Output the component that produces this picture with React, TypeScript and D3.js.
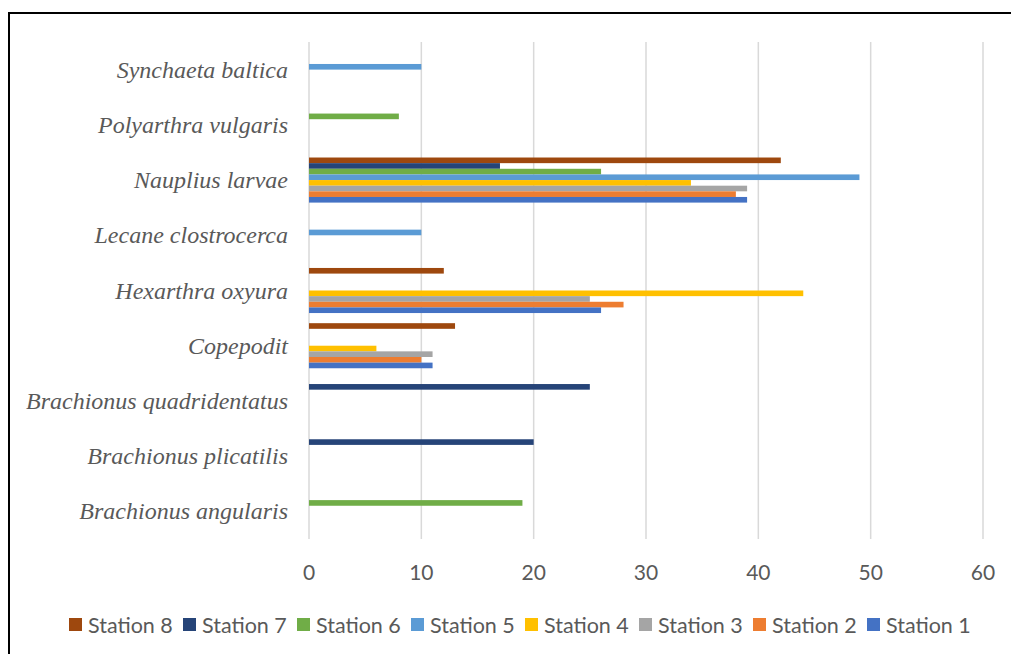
import React from "react";
import * as d3 from "d3";

// Species, listed top to bottom
const species = [
  "Synchaeta baltica",
  "Polyarthra vulgaris",
  "Nauplius larvae",
  "Lecane clostrocerca",
  "Hexarthra oxyura",
  "Copepodit",
  "Brachionus quadridentatus",
  "Brachionus plicatilis",
  "Brachionus angularis",
];

// Stations, drawn top to bottom inside each species group
const stations = [
  "Station 8",
  "Station 7",
  "Station 6",
  "Station 5",
  "Station 4",
  "Station 3",
  "Station 2",
  "Station 1",
];

const stationColors = [
  "#9E480E",
  "#264478",
  "#70AD47",
  "#5B9BD5",
  "#FFC000",
  "#A5A5A5",
  "#ED7D31",
  "#4472C4",
];

// Counts per station, in species order (null = not found)
const station8 = [null, null, 42, null, 12, 13, null, null, null];
const station7 = [null, null, 17, null, null, null, 25, 20, null];
const station6 = [null, 8, 26, null, null, null, null, null, 19];
const station5 = [10, null, 49, 10, null, null, null, null, null];
const station4 = [null, null, 34, null, 44, 6, null, null, null];
const station3 = [null, null, 39, null, 25, 11, null, null, null];
const station2 = [null, null, 38, null, 28, 10, null, null, null];
const station1 = [null, null, 39, null, 26, 11, null, null, null];

const seriesValues = [
  station8,
  station7,
  station6,
  station5,
  station4,
  station3,
  station2,
  station1,
];

const xTicks = [0, 10, 20, 30, 40, 50, 60];

export default function App() {
  const width = 1011;
  const height = 654;
  const left = 309;
  const right = 983;
  const top = 42;
  const bottom = 539;

  const x = d3.scaleLinear().domain([0, 60]).range([left, right]);
  const y = d3.scaleBand<string>().domain(species).range([top, bottom]);
  const bw = y.bandwidth();
  const barH = bw / 9.8;
  const groupH = barH * 8;
  const inner = d3
    .scaleBand<string>()
    .domain(stations)
    .range([(bw - groupH) / 2, (bw + groupH) / 2]);

  const textColor = "#595959";

  const legendX0 = 69;
  const legendStep = 114;

  return (
    <svg
      width={width}
      height={height}
      style={{ position: "absolute", left: 0, top: 0 }}
    >
      <rect x={0} y={0} width={width} height={height} fill="#fff" />
      {/* frame */}
      <rect
        x={9}
        y={13}
        width={width + 10}
        height={height + 10}
        fill="none"
        stroke="#000"
        strokeWidth={2}
      />
      {/* vertical gridlines */}
      {xTicks.map((t) => (
        <line
          key={"g" + t}
          x1={x(t)}
          x2={x(t)}
          y1={top}
          y2={bottom}
          stroke="#D9D9D9"
          strokeWidth={1.5}
        />
      ))}
      {/* bars */}
      {seriesValues.map((vals, si) =>
        vals.map((v, ci) =>
          v == null ? null : (
            <rect
              key={si + "-" + ci}
              x={x(0)}
              y={(y(species[ci]) as number) + (inner(stations[si]) as number)}
              width={x(v) - x(0)}
              height={inner.bandwidth()}
              fill={stationColors[si]}
            />
          )
        )
      )}
      {/* category labels */}
      {species.map((s) => (
        <text
          key={s}
          x={288}
          y={(y(s) as number) + bw / 2}
          textAnchor="end"
          dominantBaseline="central"
          fontFamily="'Liberation Serif', 'Times New Roman', serif"
          fontStyle="italic"
          fontSize={24}
          fill={textColor}
        >
          {s}
        </text>
      ))}
      {/* x tick labels */}
      {xTicks.map((t) => (
        <text
          key={"t" + t}
          x={x(t)}
          y={571}
          textAnchor="middle"
          dominantBaseline="central"
          fontFamily="Lato, 'Liberation Sans', sans-serif"
          fontSize={21}
          fill={textColor}
        >
          {t}
        </text>
      ))}
      {/* legend */}
      {stations.map((s, i) => (
        <g key={"l" + s} transform={`translate(${legendX0 + i * legendStep},0)`}>
          <rect x={0} y={618} width={13} height={13} fill={stationColors[i]} />
          <text
            x={19}
            y={625}
            dominantBaseline="central"
            fontFamily="Lato, 'Liberation Sans', sans-serif"
            fontSize={21.5}
            fill={textColor}
          >
            {s}
          </text>
        </g>
      ))}
    </svg>
  );
}
